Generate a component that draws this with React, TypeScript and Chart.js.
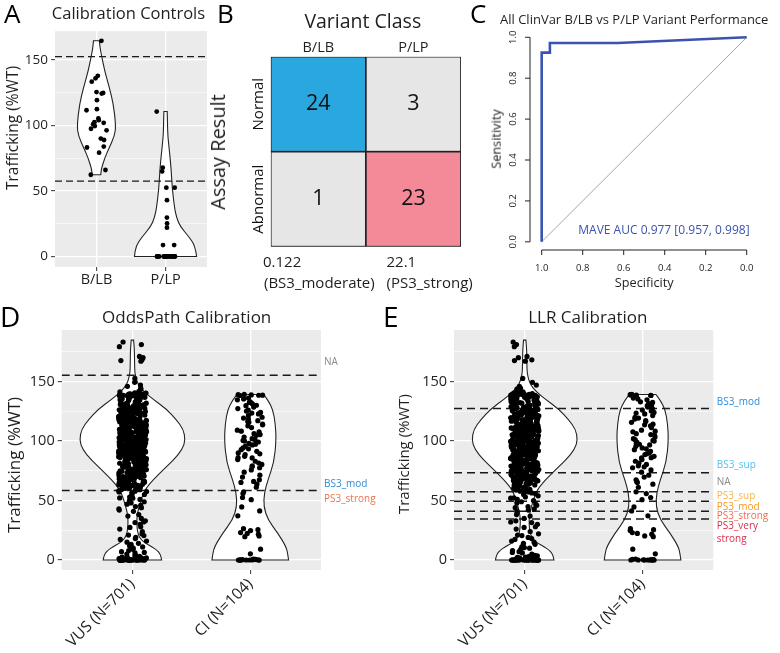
import React, { useEffect, useRef } from 'react';
import { Chart, registerables } from 'chart.js';

Chart.register(...registerables);

const FONT = "'Open Sans', 'Noto Sans', 'DejaVu Sans', sans-serif";
const INK = '#1f1f1f';

// ---------------- Panel A: calibration controls ----------------
const A_CATEGORIES = ['B/LB', 'P/LP'];
const A_BLB_VALUES = [164.6, 137.9, 136.0, 133.4, 124.8, 124.3, 125.5, 119.3, 112.4, 111.6, 105.4, 104.0, 102.5, 102.0, 101.0, 99.5, 97.5, 96.3, 90.0, 88.9, 83.9, 83.2, 79.2, 66.0, 62.4];
const A_PLP_VALUES = [110.6, 67.8, 64.9, 52.5, 52.5, 43.0, 29.7, 25.2, 22.0, 8.7, 8.7, 0, 0, 0, 0, 0, 0, 0, 0, 0, 0, 0, 0, 0, 0, 0];
const A_THRESHOLDS = [152.5, 57.5];
const A_BLB_VIOLIN_Y = [62.4, 64, 67, 75, 82, 92, 100, 117, 129, 141.6, 154, 160, 164.6];
const A_BLB_VIOLIN_W = [0.062, 0.066, 0.072, 0.119, 0.176, 0.262, 0.281, 0.243, 0.186, 0.119, 0.071, 0.05, 0.043];
const A_PLP_VIOLIN_Y = [0, 8, 15, 22.8, 30, 37.6, 52.5, 67, 80, 92, 100, 110.6];
const A_PLP_VIOLIN_W = [0.45, 0.43, 0.34, 0.214, 0.157, 0.129, 0.096, 0.081, 0.057, 0.033, 0.029, 0.024];

// ---------------- Panel B: confusion matrix ----------------
const VARIANT_CLASSES = ['B/LB', 'P/LP'];
const ASSAY_RESULTS = ['Abnormal', 'Normal'];
const ABNORMAL_COUNTS = [1, 23];
const NORMAL_COUNTS = [24, 3];
const ABNORMAL_COLORS = ['#E6E6E6', '#F48A98'];
const NORMAL_COLORS = ['#29A8E0', '#E6E6E6'];

// ---------------- Panel C: ROC ----------------
const ROC_SPECIFICITY = [1.0, 1.0, 0.96, 0.96, 0.63, 0.0];
const ROC_SENSITIVITY = [0.0, 0.925, 0.925, 0.972, 0.972, 1.0];
const ROC_TICKS = [0, 0.2, 0.4, 0.6, 0.8, 1.0];
const ROC_TICK_LABELS = ['0.0', '0.2', '0.4', '0.6', '0.8', '1.0'];

// ---------------- Panels D/E: VUS and CI ----------------
const DE_CATEGORIES = ['VUS (N=701)', 'CI (N=104)'];
const VUS_NEAR_ZERO = [0, 0, 0.5, 1, 0, 2, 0, 1.5, 0, 0.8, 0, 0, 2.5, 0, 1, 0, 0.3, 0, 1.2, 0, 0, 2, 0.6, 0, 0, 1.8, 0, 0.4, 0, 3, 0, 0, 0, 0.2, 0, 0, 0.7, 0, 0, 0, 1.1, 0, 0, 0.5, 0];
const VUS_LOW = [5, 8, 12, 4, 15, 9, 18, 6, 11, 14, 7, 19, 10, 16, 21, 26, 32, 33, 24, 28, 37, 22, 30, 35, 42, 47, 52, 44, 49, 53, 41, 46, 50, 54, 43, 48, 51, 45, 2.2, 3.6, 6.4, 10.5, 13.2, 17.3, 20.6, 27.4, 31.5, 38.2, 52.2, 55.1, 57.6, 58.8, 59.4];
const VUS_55_70 = [55.8, 57.3, 61.2, 63.9, 66.4, 68.7, 59.1, 62.5, 64.8, 67.2, 69.6, 56.4, 60.3, 65.5, 58.2, 63.1, 67.9, 61.8, 69.1, 57.9, 64.2, 66.9, 59.8, 62.9, 68.3];
const VUS_70_85 = [70.6, 72.9, 75.4, 77.1, 79.8, 81.3, 83.7, 84.6, 71.8, 74.2, 76.5, 78.3, 80.9, 82.4, 73.6, 75.9, 78.8, 81.7, 84.1, 70.2, 72.3, 74.8, 77.6, 79.2, 83.1, 71.4, 76.1, 80.3, 82.9, 73.1, 75.2, 78.9, 84.9, 77.4, 80.6, 72.6, 74.5, 79.5, 81.1, 83.4];
const VUS_85_100 = [85.3, 86.7, 88.2, 89.9, 91.4, 92.8, 94.1, 95.7, 97.2, 98.6, 99.4, 85.9, 87.5, 90.3, 93.6, 96.4, 98.1, 86.2, 88.9, 91.7, 94.8, 97.9, 89.1, 92.2, 95.1, 99.8, 87.1, 90.8, 93.3, 96.9, 85.6, 88.4, 91.1, 94.4, 97.5, 99.1, 86.9, 89.6, 92.5, 95.4, 98.3, 87.8, 90.1, 93.9, 96.2, 88.7, 91.9, 94.6, 97.7, 99.6];
const VUS_100_115 = [100.4, 101.8, 103.2, 104.7, 106.1, 107.9, 109.3, 110.6, 112.4, 113.8, 114.9, 100.9, 102.6, 105.3, 108.2, 111.1, 113.2, 101.3, 104.1, 106.8, 109.7, 112.9, 102.1, 105.9, 108.6, 111.7, 114.3, 100.2, 103.7, 107.3, 110.2, 113.5, 101.6, 104.4, 106.5, 109.1, 111.4, 114.6, 102.9, 105.6, 108.9, 112.1, 103.4, 107.1, 110.9, 100.7, 104.9, 109.9, 113.1, 106.3];
const VUS_115_130 = [115.4, 116.8, 118.2, 119.7, 121.1, 122.6, 124.3, 125.8, 127.2, 128.9, 129.6, 115.9, 117.5, 120.3, 123.4, 126.1, 128.3, 116.2, 118.9, 121.8, 124.9, 127.8, 119.1, 122.2, 125.3, 129.1, 117.1, 120.8, 123.9, 126.7, 115.6, 118.5, 121.5, 124.6, 127.5, 120.1, 123.1, 126.4];
const VUS_130_145 = [130.5, 132.1, 133.8, 135.4, 136.9, 138.3, 139.2, 140.1, 131.2, 134.6, 137.7, 139.6, 138.8, 139.9, 131.9, 135.9, 138.1, 140.4, 133.2, 137.2, 141.5, 143.8];
const VUS_DENSE_60_90 = [61.4, 63.2, 65.8, 67.1, 69.3, 71.2, 73.8, 75.1, 77.9, 79.4, 81.2, 83.6, 85.1, 86.4, 88.8, 89.7, 62.7, 64.4, 66.2, 68.9, 70.8, 72.1, 74.6, 76.8, 78.1, 80.7, 82.2, 84.3, 86.9, 88.1, 60.6, 63.7, 67.6, 70.1, 73.3, 76.2, 79.7, 82.6, 85.7, 87.6, 89.2, 64.9, 68.2, 71.7, 74.9, 78.6, 81.8, 84.8, 87.3, 62.1, 65.1, 69.9, 72.7, 75.6, 77.2, 80.1, 83.3, 86.1, 88.5, 66.7, 71.1, 74.1, 76.6, 79.1, 81.4, 84.2, 85.4, 87.9, 89.4, 73.4];
const VUS_DENSE_90_120 = [90.4, 91.8, 93.1, 94.7, 96.1, 97.8, 99.2, 100.8, 102.3, 103.9, 105.2, 106.7, 108.1, 109.6, 111.2, 112.7, 114.1, 115.8, 117.3, 118.9, 90.9, 92.4, 93.8, 95.3, 96.6, 98.4, 99.9, 101.1, 102.8, 104.3, 105.8, 107.4, 108.8, 110.4, 111.9, 113.3, 114.8, 116.4, 117.9, 119.4, 91.2, 94.2, 97.1, 100.3, 103.1, 106.2, 109.1, 112.2, 115.3, 118.2, 92.9, 95.9, 98.8, 101.9, 104.8, 107.7, 110.8, 113.9, 116.8, 119.7, 90.2, 93.4, 96.8, 99.6, 102.6, 105.6, 108.4, 111.6, 114.4, 117.6, 91.5, 94.9, 97.4, 100.1, 103.6, 106.9, 109.4, 112.4, 115.1, 118.6, 95.1, 98.2, 101.4, 104.6, 107.1, 110.1, 113.6, 116.1, 119.1, 99.1];
const VUS_DENSE_120_142 = [120.4, 121.9, 123.3, 124.8, 126.2, 127.7, 129.3, 130.8, 132.4, 133.9, 135.3, 136.8, 138.2, 139.5, 140.7, 120.9, 122.5, 124.1, 125.6, 127.1, 128.6, 130.1, 131.7, 133.3, 134.9, 136.4, 137.9, 139.1, 140.3, 141.8, 121.3, 123.8, 126.7, 129.8, 132.8, 135.8, 138.6, 139.8, 122.8, 125.1, 128.1, 131.4, 134.2, 137.3, 139.4, 121.6, 124.4, 127.4, 130.4, 138.5];
const VUS_TOP = [147.2, 146.1, 149.5, 152.8, 144.6, 183.4, 181.2, 179.5, 171.3, 170.2, 168.4, 167.3, 167.8];
const VUS_VALUES = [...VUS_NEAR_ZERO, ...VUS_LOW, ...VUS_55_70, ...VUS_70_85, ...VUS_85_100, ...VUS_100_115, ...VUS_115_130, ...VUS_130_145, ...VUS_DENSE_60_90, ...VUS_DENSE_90_120, ...VUS_DENSE_120_142, ...VUS_TOP];

const CI_VALUES = [
  138.6, 138.9, 139.1, 138.4, 139.3, 138.7,
  136.2, 134.8, 133.1, 131.5, 130.2, 128.7, 127.4, 126.1, 125.3, 135.5, 132.6, 129.8,
  124.2, 122.9, 121.5, 120.1, 118.6, 117.2, 115.8, 114.3, 112.9, 111.4, 123.6, 119.4, 116.5, 113.7,
  109.2, 107.8, 106.3, 104.9, 103.4, 102.1, 100.6, 99.3, 98.1, 96.8, 95.6, 108.4, 105.5, 101.2, 97.4, 100.1,
  94.3, 92.8, 91.4, 90.1, 88.7, 87.2, 85.9, 84.5, 83.1, 81.6, 80.4, 93.5, 89.3, 86.1,
  79.2, 77.6, 75.8, 73.9, 71.4, 69.8, 67.5, 66.1, 65.3, 78.4,
  63.8, 61.2, 57.4, 55.9, 52.6, 50.8,
  44.7, 41.3, 37.2,
  26.4, 24.8, 23.1, 21.7, 20.3, 19.6, 25.5, 22.4,
  9.1, 5.2,
  0, 0, 0.3, 0, 0.6, 0, 0, 0.2, 0, 0.8, 0, 0.4, 0,
];

const VUS_VIOLIN_Y = [0, 3, 5.6, 8.4, 11.2, 14, 17, 20, 23, 28, 34, 40, 45, 50, 56, 62, 67.5, 76, 84, 93, 101, 110, 118, 127, 135, 142, 148, 155, 160, 170, 178, 185];
const VUS_VIOLIN_W = [0.248, 0.242, 0.231, 0.206, 0.164, 0.113, 0.074, 0.057, 0.045, 0.039, 0.037, 0.044, 0.057, 0.072, 0.093, 0.127, 0.178, 0.263, 0.347, 0.424, 0.449, 0.432, 0.373, 0.288, 0.178, 0.093, 0.045, 0.025, 0.019, 0.018, 0.016, 0.010];
const CI_VIOLIN_Y = [0, 5, 11, 22.5, 33.7, 45, 56.5, 67.5, 82, 101, 115, 126.5, 134, 139.3];
const CI_VIOLIN_W = [0.325, 0.318, 0.305, 0.235, 0.15, 0.113, 0.119, 0.15, 0.201, 0.22, 0.212, 0.192, 0.153, 0.113];

const D_THRESHOLDS = [155.5, 58.5];
const E_THRESHOLDS = [127.5, 73.5, 57.5, 49.5, 41, 34.5];

const Y_MAJOR_TICKS = [0, 50, 100, 150];
const Y_MINOR_TICKS = [25, 75, 125, 175];

// ---------------- helpers ----------------
function jitter(i: number, seed: number, w: number) {
  const s = Math.sin((i + 1) * 12.9898 + seed * 78.233) * 43758.5453;
  const u = s - Math.floor(s);
  return (u * 2 - 1) * w;
}

function smoothSide(ctx: CanvasRenderingContext2D, pts: number[][], move: boolean) {
  if (move) ctx.moveTo(pts[0][0], pts[0][1]);
  else ctx.lineTo(pts[0][0], pts[0][1]);
  for (let i = 1; i < pts.length - 1; i++) {
    const mx = (pts[i][0] + pts[i + 1][0]) / 2;
    const my = (pts[i][1] + pts[i + 1][1]) / 2;
    ctx.quadraticCurveTo(pts[i][0], pts[i][1], mx, my);
  }
  const last = pts[pts.length - 1];
  ctx.lineTo(last[0], last[1]);
}

const panelBgPlugin = {
  id: 'panelBg',
  beforeDraw(chart: any) {
    const { ctx, chartArea: a } = chart;
    ctx.save();
    ctx.fillStyle = '#EBEBEB';
    ctx.fillRect(a.left, a.top, a.right - a.left, a.bottom - a.top);
    ctx.restore();
  },
};

const violinPlugin = {
  id: 'violins',
  beforeDatasetsDraw(chart: any, _args: any, opts: any) {
    const { ctx, chartArea: a, scales } = chart;
    const x = scales.x;
    const y = scales.y;
    ctx.save();
    ctx.beginPath();
    ctx.rect(a.left, a.top, a.right - a.left, a.bottom - a.top);
    ctx.clip();
    for (const v of opts.items || []) {
      const right = v.ys.map((yy: number, i: number) => [x.getPixelForValue(v.center + v.ws[i]), y.getPixelForValue(yy)]);
      const left = v.ys.map((yy: number, i: number) => [x.getPixelForValue(v.center - v.ws[i]), y.getPixelForValue(yy)]).reverse();
      ctx.beginPath();
      smoothSide(ctx, right, true);
      smoothSide(ctx, left, false);
      ctx.closePath();
      ctx.fillStyle = '#ffffff';
      ctx.fill();
      ctx.lineWidth = opts.lineWidth || 1.1;
      ctx.strokeStyle = '#222';
      ctx.stroke();
    }
    ctx.restore();
  },
};

type ViolinSpec = {
  categories: string[];
  groups: { values: number[]; seed: number; jit: number }[];
  violins: { ys: number[]; ws: number[] }[];
  thresholds: number[];
  yMin: number;
  yMax: number;
  tickSize: number;
  catSize: number;
  rotate: number;
  yWidth: number;
  xHeight: number;
  padding: { left: number; right: number; top: number; bottom: number };
  pointRadius: number;
  dash: number[];
  dashWidth: number;
  catPadding: number;
};

function violinConfig(s: ViolinSpec): any {
  const X_MIN = 0.4;
  const X_MAX = 2.6;
  const pointSets = s.groups.map((g, gi) => ({
    type: 'scatter',
    data: g.values.map((v, i) => ({ x: gi + 1 + jitter(i, g.seed, g.jit), y: v })),
    pointRadius: s.pointRadius,
    pointBackgroundColor: '#000',
    pointBorderWidth: 0,
    showLine: false,
  }));
  const lineSets = s.thresholds.map((t) => ({
    type: 'scatter',
    data: [{ x: X_MIN, y: t }, { x: X_MAX, y: t }],
    showLine: true,
    borderColor: '#1a1a1a',
    borderWidth: s.dashWidth,
    borderDash: s.dash,
    pointRadius: 0,
    fill: false,
  }));
  return {
    type: 'scatter',
    data: { datasets: [...pointSets, ...lineSets] },
    plugins: [panelBgPlugin, violinPlugin],
    options: {
      responsive: false,
      animation: false,
      layout: { padding: s.padding },
      plugins: {
        legend: { display: false },
        tooltip: { enabled: false },
        violins: { items: s.violins.map((v, i) => ({ center: i + 1, ys: v.ys, ws: v.ws })) },
      },
      scales: {
        x: {
          type: 'linear',
          min: X_MIN,
          max: X_MAX,
          afterBuildTicks: (sc: any) => {
            sc.ticks = s.categories.map((_c, i) => ({ value: i + 1 }));
          },
          afterFit: (sc: any) => {
            sc.height = s.xHeight;
          },
          border: { display: false },
          grid: { color: '#ffffff', lineWidth: 1.3, tickColor: '#333', tickLength: 4, tickWidth: 1 },
          ticks: {
            autoSkip: false,
            minRotation: s.rotate,
            maxRotation: s.rotate,
            padding: s.catPadding,
            color: INK,
            font: { family: FONT, size: s.catSize },
            callback: (v: number) => s.categories[Math.round(v) - 1] ?? '',
          },
        },
        y: {
          type: 'linear',
          min: s.yMin,
          max: s.yMax,
          afterBuildTicks: (sc: any) => {
            sc.ticks = [...Y_MAJOR_TICKS, ...Y_MINOR_TICKS]
              .filter((v) => v >= s.yMin && v <= s.yMax)
              .sort((a, b) => a - b)
              .map((v) => ({ value: v }));
          },
          afterFit: (sc: any) => {
            sc.width = s.yWidth;
          },
          border: { display: false },
          grid: {
            color: '#ffffff',
            lineWidth: (c: any) => (c.tick && Y_MAJOR_TICKS.includes(c.tick.value) ? 1.3 : 0.6),
            tickColor: (c: any) => (c.tick && Y_MAJOR_TICKS.includes(c.tick.value) ? '#333' : 'rgba(0,0,0,0)'),
            tickLength: 4,
            tickWidth: 1,
          },
          ticks: {
            padding: 3,
            color: INK,
            font: { family: FONT, size: s.tickSize },
            callback: (v: number) => (Y_MAJOR_TICKS.includes(v) ? String(v) : ''),
          },
        },
      },
    },
  };
}

const matrixLabelPlugin = {
  id: 'matrixLabels',
  afterDatasetsDraw(chart: any) {
    const { ctx, chartArea: a, scales } = chart;
    ctx.save();
    ctx.fillStyle = '#111';
    ctx.textAlign = 'center';
    ctx.textBaseline = 'middle';
    ctx.font = `21.5px ${FONT}`;
    chart.data.datasets.forEach((ds: any, di: number) => {
      const meta = chart.getDatasetMeta(di);
      meta.data.forEach((el: any, i: number) => {
        const p = el.getProps(['x', 'y', 'base'], true);
        ctx.fillText(String(ds.counts[i]), p.x, (p.y + p.base) / 2);
      });
    });
    ctx.font = `15px ${FONT}`;
    ASSAY_RESULTS.forEach((r, i) => {
      const py = scales.y.getPixelForValue(i + 0.5);
      ctx.save();
      ctx.translate(a.left - 11.7, py);
      ctx.rotate(-Math.PI / 2);
      ctx.fillText(r, 0, 0);
      ctx.restore();
    });
    ctx.restore();
  },
};

function matrixConfig(): any {
  return {
    type: 'bar',
    data: {
      labels: VARIANT_CLASSES,
      datasets: [
        { label: ASSAY_RESULTS[0], counts: ABNORMAL_COUNTS, data: ABNORMAL_COUNTS.map(() => 1), backgroundColor: ABNORMAL_COLORS },
        { label: ASSAY_RESULTS[1], counts: NORMAL_COUNTS, data: NORMAL_COUNTS.map(() => 1), backgroundColor: NORMAL_COLORS },
      ].map((d) => ({
        ...d,
        borderColor: '#222',
        borderWidth: 1.2,
        borderSkipped: false,
        barPercentage: 1,
        categoryPercentage: 1,
      })),
    },
    plugins: [matrixLabelPlugin],
    options: {
      responsive: false,
      animation: false,
      layout: { padding: { left: 45.7, right: 9, top: 6.7, bottom: 8.3 } },
      plugins: { legend: { display: false }, tooltip: { enabled: false } },
      scales: {
        x: {
          position: 'top',
          stacked: true,
          afterFit: (sc: any) => {
            sc.height = 20;
          },
          border: { display: false },
          grid: { display: false, drawTicks: false },
          ticks: { padding: 0, color: INK, font: { family: FONT, size: 14.5 } },
        },
        y: { stacked: true, min: 0, max: 2, display: false },
      },
    },
  };
}

const rocAxesPlugin = {
  id: 'rocAxes',
  afterDraw(chart: any) {
    const { ctx, chartArea: a, scales } = chart;
    const x = scales.x;
    const y = scales.y;
    const n = ROC_TICKS.length - 1;
    ctx.save();
    ctx.strokeStyle = '#222';
    ctx.lineWidth = 1;
    ctx.fillStyle = '#222';
    ctx.font = `9.5px ${FONT}`;
    ctx.textAlign = 'center';
    ctx.textBaseline = 'middle';
    const yb = a.bottom;
    ctx.beginPath();
    ctx.moveTo(x.getPixelForValue(ROC_TICKS[0]), yb);
    ctx.lineTo(x.getPixelForValue(ROC_TICKS[n]), yb);
    ROC_TICKS.forEach((t) => {
      const px = x.getPixelForValue(t);
      ctx.moveTo(px, yb);
      ctx.lineTo(px, yb + 5);
    });
    const xl = a.left;
    ctx.moveTo(xl, y.getPixelForValue(ROC_TICKS[0]));
    ctx.lineTo(xl, y.getPixelForValue(ROC_TICKS[n]));
    ROC_TICKS.forEach((t) => {
      const py = y.getPixelForValue(t);
      ctx.moveTo(xl, py);
      ctx.lineTo(xl - 5, py);
    });
    ctx.stroke();
    ROC_TICKS.forEach((t, i) => {
      ctx.fillText(ROC_TICK_LABELS[i], x.getPixelForValue(t), yb + 18.3);
    });
    ROC_TICKS.forEach((t, i) => {
      ctx.save();
      ctx.translate(xl - 16.7, y.getPixelForValue(t));
      ctx.rotate(-Math.PI / 2);
      ctx.fillText(ROC_TICK_LABELS[i], 0, 0);
      ctx.restore();
    });
    ctx.restore();
  },
};

function rocConfig(): any {
  return {
    type: 'scatter',
    data: {
      datasets: [
        {
          data: ROC_SPECIFICITY.map((sp, i) => ({ x: sp, y: ROC_SENSITIVITY[i] })),
          showLine: true,
          borderColor: '#3A52B0',
          borderWidth: 2.6,
          pointRadius: 0,
          fill: false,
        },
        {
          data: [{ x: 1, y: 0 }, { x: 0, y: 1 }],
          showLine: true,
          borderColor: '#A6A6A6',
          borderWidth: 1,
          pointRadius: 0,
          fill: false,
        },
      ],
    },
    plugins: [rocAxesPlugin],
    options: {
      responsive: false,
      animation: false,
      layout: { padding: { left: 50, right: 21.6, top: 4.1, bottom: 50 } },
      plugins: { legend: { display: false }, tooltip: { enabled: false } },
      scales: {
        x: { type: 'linear', reverse: true, min: -0.057, max: 1.057, display: false },
        y: { type: 'linear', min: -0.04, max: 1.04, display: false },
      },
    },
  };
}

function ChartCanvas(props: { left: number; top: number; width: number; height: number; make: () => any }) {
  const ref = useRef<HTMLCanvasElement | null>(null);
  useEffect(() => {
    if (!ref.current) return;
    const chart = new Chart(ref.current, props.make());
    return () => chart.destroy();
  }, []);
  return (
    <canvas
      ref={ref}
      width={props.width}
      height={props.height}
      style={{ position: 'absolute', left: props.left, top: props.top, width: props.width, height: props.height }}
    />
  );
}

function T(props: { x: number; y: number; size: number; text: string; color?: string; align?: 'left' | 'center'; rotate?: boolean }) {
  const base: any = {
    position: 'absolute',
    fontFamily: FONT,
    fontSize: props.size,
    lineHeight: 1,
    whiteSpace: 'nowrap',
    color: props.color || INK,
  };
  if (props.rotate) {
    return (
      <div style={{ ...base, left: props.x, top: props.y, transform: 'translate(-50%, -50%) rotate(-90deg)' }}>{props.text}</div>
    );
  }
  const top = props.y - 0.53 * props.size;
  if (props.align === 'center') {
    return <div style={{ ...base, left: props.x, top, transform: 'translateX(-50%)' }}>{props.text}</div>;
  }
  return <div style={{ ...base, left: props.x, top }}>{props.text}</div>;
}

export default function App() {
  const aConfig = () =>
    violinConfig({
      categories: A_CATEGORIES,
      groups: [
        { values: A_BLB_VALUES, seed: 1, jit: 0.15 },
        { values: A_PLP_VALUES, seed: 2, jit: 0.15 },
      ],
      violins: [
        { ys: A_BLB_VIOLIN_Y, ws: A_BLB_VIOLIN_W },
        { ys: A_PLP_VIOLIN_Y, ws: A_PLP_VIOLIN_W },
      ],
      thresholds: A_THRESHOLDS,
      yMin: -8,
      yMax: 172,
      tickSize: 13.5,
      catSize: 14.5,
      rotate: 0,
      yWidth: 55,
      xHeight: 28,
      padding: { left: 0, right: 8, top: 5, bottom: 0 },
      pointRadius: 2.4,
      dash: [7, 4],
      dashWidth: 1.3,
      catPadding: 0,
    });
  const dConfig = () =>
    violinConfig({
      categories: DE_CATEGORIES,
      groups: [
        { values: VUS_VALUES, seed: 3, jit: 0.12 },
        { values: CI_VALUES, seed: 4, jit: 0.11 },
      ],
      violins: [
        { ys: VUS_VIOLIN_Y, ws: VUS_VIOLIN_W },
        { ys: CI_VIOLIN_Y, ws: CI_VIOLIN_W },
      ],
      thresholds: D_THRESHOLDS,
      yMin: -8.4,
      yMax: 193.5,
      tickSize: 14.5,
      catSize: 15.5,
      rotate: 45,
      yWidth: 61.7,
      xHeight: 83,
      padding: { left: 0, right: 69, top: 30, bottom: 0 },
      pointRadius: 2.6,
      dash: [8, 5],
      dashWidth: 1.5,
      catPadding: 1,
    });
  const eConfig = () =>
    violinConfig({
      categories: DE_CATEGORIES,
      groups: [
        { values: VUS_VALUES, seed: 5, jit: 0.12 },
        { values: CI_VALUES, seed: 6, jit: 0.11 },
      ],
      violins: [
        { ys: VUS_VIOLIN_Y, ws: VUS_VIOLIN_W },
        { ys: CI_VIOLIN_Y, ws: CI_VIOLIN_W },
      ],
      thresholds: E_THRESHOLDS,
      yMin: -8.4,
      yMax: 193.5,
      tickSize: 14.5,
      catSize: 15.5,
      rotate: 45,
      yWidth: 64,
      xHeight: 83,
      padding: { left: 0, right: 66.7, top: 30, bottom: 0 },
      pointRadius: 2.6,
      dash: [8, 5],
      dashWidth: 1.5,
      catPadding: 1,
    });

  return (
    <div style={{ position: 'fixed', left: 0, top: 0, width: 780, height: 653, background: '#ffffff', overflow: 'hidden' }}>
      <ChartCanvas left={0} top={20} width={215} height={275} make={aConfig} />
      <ChartCanvas left={225} top={30} width={245} height={225} make={matrixConfig} />
      <ChartCanvas left={480} top={25} width={300} height={275} make={rocConfig} />
      <ChartCanvas left={0} top={300} width={390} height={353} make={dConfig} />
      <ChartCanvas left={390} top={300} width={390} height={353} make={eConfig} />

      {/* Panel A */}
      <T x={4} y={14.2} size={26} text="A" color="#000" />
      <T x={128.5} y={14.2} size={16.5} text="Calibration Controls" align="center" />
      <T x={12.5} y={128.3} size={15.5} text="Trafficking (%WT)" rotate />

      {/* Panel B */}
      <T x={217} y={14.2} size={26} text="B" color="#000" />
      <T x={362.8} y={21.7} size={19.5} text="Variant Class" align="center" />
      <T x={218.3} y={151.7} size={20} text="Assay Result" rotate />
      <T x={263} y={262} size={15} text="0.122" />
      <T x={264} y={283} size={15} text="(BS3_moderate)" />
      <T x={386.5} y={262} size={15} text="22.1" />
      <T x={386.5} y={283} size={15} text="(PS3_strong)" />

      {/* Panel C */}
      <T x={470} y={14.2} size={26} text="C" color="#000" />
      <T x={500} y={20} size={13} text="All ClinVar B/LB vs P/LP Variant Performance" />
      <T x={496} y={139} size={12.7} text="Sensitivity" rotate color="#1a1a1a" />
      <T x={644.2} y={282.8} size={12.7} text="Specificity" align="center" />
      <T x={578.3} y={230.8} size={12} text="MAVE AUC 0.977 [0.957, 0.998]" color="#3A52B0" />

      {/* Panel D */}
      <T x={0} y={316.7} size={28} text="D" color="#000" />
      <T x={186.7} y={316.7} size={17} text="OddsPath Calibration" align="center" />
      <T x={13.3} y={465} size={17} text="Trafficking (%WT)" rotate />
      <T x={324} y={361.2} size={10} text="NA" color="#8A8A8A" />
      <T x={324} y={482.8} size={10} text="BS3_mod" color="#2F8CD6" />
      <T x={324} y={498.2} size={10} text="PS3_strong" color="#F2724C" />

      {/* Panel E */}
      <T x={383} y={316.7} size={28} text="E" color="#000" />
      <T x={587.8} y={316.7} size={17} text="LLR Calibration" align="center" />
      <T x={403.3} y={454} size={15} text="Trafficking (%WT)" rotate />
      <T x={716.7} y={401.2} size={10} text="BS3_mod" color="#2F8CD6" />
      <T x={716.7} y={463.8} size={10} text="BS3_sup" color="#4FC3F2" />
      <T x={716.7} y={481.2} size={10} text="NA" color="#8A8A8A" />
      <T x={716.7} y={495.5} size={10} text="PS3_sup" color="#FBB448" />
      <T x={716.7} y={506} size={10} text="PS3_mod" color="#F7981F" />
      <T x={716.7} y={515.5} size={10} text="PS3_strong" color="#F26D50" />
      <T x={716.7} y={525} size={10} text="PS3_very" color="#D6304E" />
      <T x={716.7} y={538} size={10} text="strong" color="#D6304E" />
    </div>
  );
}
